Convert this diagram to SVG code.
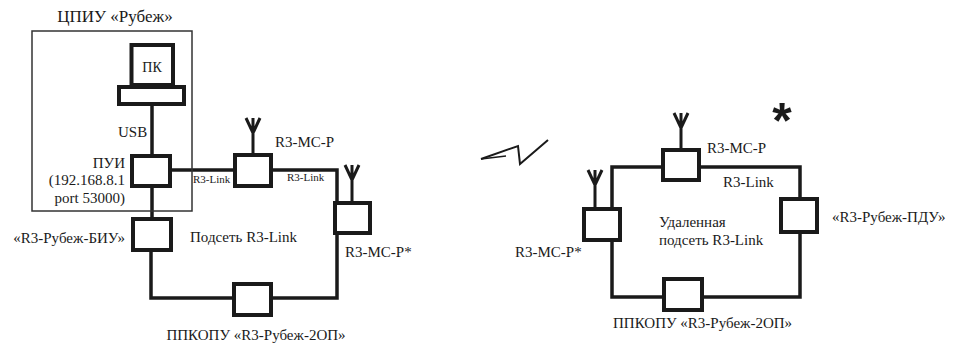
<svg xmlns="http://www.w3.org/2000/svg" width="964" height="349" viewBox="0 0 964 349" font-family="'Liberation Serif', 'DejaVu Serif', serif">
<style>
.bx{fill:#fff;stroke:#1a1a1a;stroke-width:4}
.ln{fill:none;stroke:#1a1a1a;stroke-width:3.5}
.ant{fill:none;stroke:#1a1a1a;stroke-width:3}
.t{font-size:15px;fill:#1a1a1a}
.s{font-size:11px;fill:#1a1a1a}
</style>
<rect width="964" height="349" fill="#fff"/>
<g id="connectors">
<path class="ln" d="M152,106 V154"/>
<path class="ln" d="M152,188 V217"/>
<path class="ln" d="M172,170 H233"/>
<path class="ln" d="M273,170 H337 V201"/>
<path class="ln" d="M337,235 V298 H273"/>
<path class="ln" d="M232,298 H151 V252"/>
<path class="ln" d="M701,167 H800 V197"/>
<path class="ln" d="M661,167 H612 V207"/>
<path class="ln" d="M612,242 V297 H662"/>
<path class="ln" d="M704,297 H800 V234"/>
</g>
<g id="cpiu">
<rect x="32" y="31" width="160" height="180" fill="none" stroke="#333" stroke-width="1.5"/>
<text class="t" x="115" y="22" text-anchor="middle" font-family="Liberation Serif" style="font-size:17px">ЦПИУ «Рубеж»</text>
</g>
<g id="pc">
<rect class="bx" x="131.5" y="45" width="41.5" height="40"/>
<rect class="bx" x="119" y="87" width="65" height="17"/>
<text class="t" x="152" y="72" text-anchor="middle" style="font-size:14px">ПК</text>
</g>
<text class="t" x="118" y="137">USB</text>
<g id="pui">
<rect class="bx" x="132" y="156" width="38" height="30"/>
<text class="t" x="125" y="168" text-anchor="end">ПУИ</text>
<text class="t" x="125" y="185" text-anchor="end">(192.168.8.1</text>
<text class="t" x="125" y="203" text-anchor="end">port 53000)</text>
</g>
<text class="s" x="193" y="183">R3-Link</text>
<text class="s" x="287" y="181">R3-Link</text>
<g id="mcp1">
<path class="ant" d="M253,153 V118 M246,118 L253,133 L260,118"/>
<rect class="bx" x="235" y="155" width="36" height="31"/>
<text class="t" x="275" y="147">R3-МС-Р</text>
</g>
<g id="mcp1star">
<path class="ant" d="M352,201 V165 M345,165 L352,180 L359,165"/>
<rect class="bx" x="335" y="203" width="35" height="30"/>
<text class="t" x="345" y="257">R3-МС-Р*</text>
</g>
<g id="biu">
<rect class="bx" x="133" y="219" width="38" height="31"/>
<text class="t" x="125" y="243" text-anchor="end">«R3-Рубеж-БИУ»</text>
</g>
<text class="t" x="190" y="242">Подсеть R3-Link</text>
<g id="ppkopu1">
<rect class="bx" x="234" y="284" width="37" height="31"/>
<text class="t" x="256" y="340" text-anchor="middle">ППКОПУ «R3-Рубеж-2ОП»</text>
</g>
<g id="lightning">
<path d="M481,159 L518,146 L520,164 L548,140" fill="none" stroke="#1a1a1a" stroke-width="2"/>
<path d="M481,159 L506,156" fill="none" stroke="#1a1a1a" stroke-width="1.5"/>
</g>
<text x="782" y="138" text-anchor="middle" font-family="'Liberation Sans', sans-serif" font-size="50" font-weight="bold" fill="#1a1a1a">*</text>
<g id="mcp2">
<path class="ant" d="M681,148 V113 M674,113 L681,128 L688,113"/>
<rect class="bx" x="663" y="150" width="36" height="30"/>
<text class="t" x="707" y="153">R3-МС-Р</text>
</g>
<text class="t" x="723" y="187">R3-Link</text>
<g id="mcp2star">
<path class="ant" d="M595,207 V170 M588,170 L595,185 L602,170"/>
<rect class="bx" x="584" y="209" width="36" height="31"/>
<text class="t" x="515" y="257">R3-МС-Р*</text>
</g>
<g id="pdu">
<rect class="bx" x="781" y="199" width="36" height="33"/>
<text class="t" x="832" y="222">«R3-Рубеж-ПДУ»</text>
</g>
<text class="t" x="659" y="227">Удаленная</text>
<text class="t" x="659" y="245">подсеть R3-Link</text>
<g id="ppkopu2">
<rect class="bx" x="664" y="279" width="38" height="31"/>
<text class="t" x="613" y="328">ППКОПУ «R3-Рубеж-2ОП»</text>
</g>
</svg>
